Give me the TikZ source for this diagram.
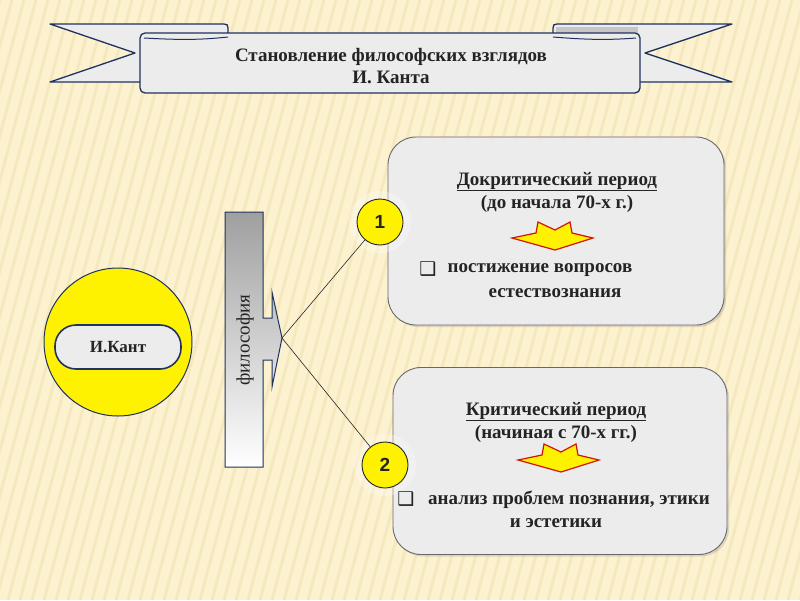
\documentclass[tikz,border=0pt]{standalone}
\usepackage{fontspec}
\setmainfont{Liberation Serif}
\newfontfamily\numfont{Liberation Sans}
\newfontfamily\symfont{DejaVu Sans}
\usetikzlibrary{shadows}

\definecolor{bgcream}{RGB}{252,242,208}
\definecolor{stripe}{RGB}{228,200,130}
\definecolor{ribbonfill}{RGB}{236,236,236}
\definecolor{navy}{RGB}{31,50,96}
\definecolor{boxedge}{RGB}{105,105,105}
\definecolor{arrowred}{RGB}{210,20,10}
\definecolor{txtdark}{RGB}{36,36,36}

\tikzset{
  ribbon/.style={draw=navy, fill=ribbonfill, line width=1.3pt, line join=round},
  periodbox/.style={draw=boxedge, fill=ribbonfill, line width=0.9pt, rounded corners=28pt,
    drop shadow={shadow xshift=2pt, shadow yshift=-2pt, opacity=.25}},
  numdisc/.style={circle, draw=txtdark, fill=yellow, line width=0.9pt, minimum size=46pt,
    inner sep=0pt, font=\numfont\bfseries\fontsize{19}{19}\selectfont, text=txtdark},
  boxtext/.style={align=center, inner sep=0.75pt, text=txtdark,
    font=\bfseries\fontsize{19}{23}\selectfont},
  bulletmark/.style={text=txtdark, font=\symfont\fontsize{19}{19}\selectfont},
  downarrow/.style={draw=arrowred, fill=yellow, line width=1.2pt, line join=miter}
}

\begin{document}
\begin{tikzpicture}[x=1pt,y=1pt,yscale=-1,xscale=1]
    %Background
    \fill[bgcream] (0,0) rectangle (800,600);
    \useasboundingbox (0,0) rectangle (800,600);
    \begin{scope}
      \clip (0,0) rectangle (800,600);
      \foreach \i in {-400,-388,...,800}
        \draw[stripe, opacity=.22, line width=3pt] (\i,600) -- (\i+160,0);
    \end{scope}

    %Shape: Ribbon tails
    \draw[ribbon] (50,24) -- (224,24) .. controls (227,24) and (228,25) .. (228,28) -- (228,82) -- (50,82) -- (135,53) -- cycle;
    \draw[ribbon] (732,24) -- (557,24) .. controls (554,24) and (553,25) .. (553,28) -- (553,82) -- (732,82) -- (645,53) -- cycle;
    \fill[gray!45] (556,27) rectangle (638,34);
    %Shape: Ribbon front
    \draw[ribbon, rounded corners=5pt] (140,33) rectangle (640,93);
    \draw[navy, line width=1pt] (144,38) .. controls (180,40) and (200,40) .. (228,37);
    \draw[navy, line width=1pt] (553,37) .. controls (590,40) and (610,40) .. (636,38);

    % Text Node
    \node[align=center, text=txtdark, font=\bfseries\fontsize{19}{22}\selectfont] (title) at (391,66)
      {Становление философских взглядов\\И. Канта};

    %Shape: Kant disc
    \node[circle, draw=navy, fill=yellow, line width=1pt, minimum size=148pt] (disc) at (118,342) {};
    \node[draw=navy, fill=ribbonfill, line width=1.6pt, rounded corners=21pt, minimum width=126pt,
      minimum height=44pt, text=txtdark, font=\bfseries\fontsize{17}{17}\selectfont] (kant) at (118,347) {И.Кант};

    %Shape: Philosophy bar
    \shade[top color=gray!75, bottom color=white]
      (225,212) -- (263,212) -- (263,318) -- (272,318) -- (272,292) -- (282,338) -- (272,387)
      -- (272,360) -- (263,360) -- (263,467) -- (225,467) -- cycle;
    \draw[navy, line width=1pt, line join=miter]
      (225,212) -- (263,212) -- (263,318) -- (272,318) -- (272,292) -- (282,338) -- (272,387)
      -- (272,360) -- (263,360) -- (263,467) -- (225,467) -- cycle;
    \coordinate (tip) at (282,338);
    % Text Node
    \node[rotate=90, text=txtdark, font=\fontsize{19}{19}\selectfont] (phil) at (245,340) {философия};

    %Shape: Period boxes
    \node[periodbox, minimum width=336pt, minimum height=188pt] (pre) at (556,231) {};
    \node[periodbox, minimum width=334pt, minimum height=187pt] (crit) at (560,461) {};

    %Shape: Number discs
    \fill[white, opacity=.3] (380,222) circle (31);
    \fill[white, opacity=.3] (385,465) circle (31);
    \node[numdisc] (one) at (380,222) {1};
    \node[numdisc] (two) at (385,465) {2};

    %Straight Lines
    \draw[txtdark, line width=0.6pt] (tip) -- (one);
    \draw[txtdark, line width=0.6pt] (tip) -- (two);

    % Text Node
    \node[boxtext] (pretitle) at (557,192) {\underline{Докритический период}\\(до начала 70-х г.)};
    \node[bulletmark] (prebul) at (428,269) {❑};
    \node[boxtext] (pretext) at (540,270) {постижение вопросов};
    \node[boxtext] (pretextb) at (555,293) {естествознания};
    % Text Node
    \node[boxtext] (crittitle) at (556,422) {\underline{Критический период}\\(начиная с 70-х гг.)};
    \node[bulletmark] (critbul) at (406,499) {❑};
    \node[boxtext] (crittext) at (569,500) {анализ проблем познания, этики};
    \node[boxtext] (crittextb) at (556,523) {и эстетики};

    %Shape: Down arrows
    \draw[downarrow] (512,238) -- (536,233) -- (538,222) -- (555,230) -- (570,222) -- (572,233)
      -- (593,238) -- (555,250) -- cycle;
    \draw[downarrow] (518,460) -- (542,455) -- (544,444) -- (561,452) -- (576,444) -- (578,455)
      -- (599,460) -- (561,472) -- cycle;

\end{tikzpicture}
\end{document}
